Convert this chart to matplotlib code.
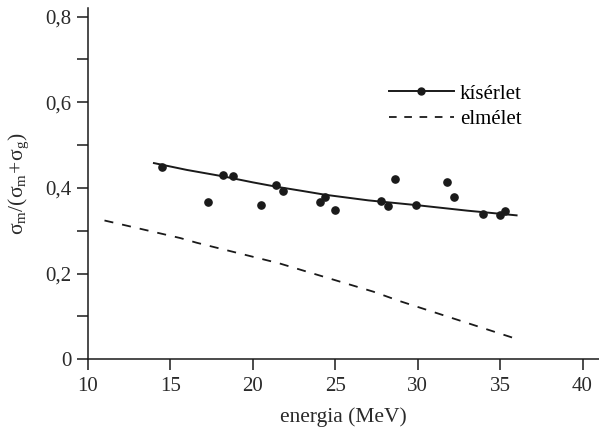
import numpy as np
import matplotlib
matplotlib.use("Agg")
import matplotlib.pyplot as plt

plt.rcParams['font.family'] = ['Liberation Serif', 'DejaVu Serif']
plt.rcParams['mathtext.fontset'] = 'custom'
plt.rcParams['mathtext.rm'] = 'Liberation Serif'
plt.rcParams['mathtext.it'] = 'Liberation Serif:italic'
plt.rcParams['lines.scale_dashes'] = False

# measured points (kísérlet)
exp_energy = [14.5, 17.3, 18.2, 18.8, 20.5, 21.4, 21.8, 24.1, 24.4, 25.0,
              27.8, 28.2, 28.65, 29.9, 31.75, 32.2, 33.95, 35.0, 35.3]
exp_ratio = [0.450, 0.367, 0.430, 0.428, 0.360, 0.407, 0.394, 0.368, 0.378, 0.348,
             0.369, 0.357, 0.420, 0.359, 0.415, 0.378, 0.339, 0.336, 0.346]

# fitted curve through the measurements
fit_energy = [14.0, 16.0, 18.2, 20.0, 21.4, 23.0, 24.4, 27.0, 29.9, 33.0, 36.0]
fit_ratio = [0.458, 0.442, 0.427, 0.413, 0.403, 0.393, 0.384, 0.371, 0.360, 0.347, 0.336]

# theory (elmélet)
th_energy = [11.0, 15.6, 16.6, 21.6, 27.3, 28.9, 35.8]
th_ratio = [0.324, 0.283, 0.272, 0.224, 0.158, 0.136, 0.050]

fig = plt.figure(figsize=(5.99, 4.30), dpi=100)
ax = fig.add_axes([88/599, 1 - 359.3/430, 1 - 88/599, (359.3 - 8)/430])

ax.plot(fit_energy, fit_ratio, color='#1a1a1a', lw=1.4, zorder=2)
ax.plot(exp_energy, exp_ratio, 'o', color='#1a1a1a', ms=5.2, zorder=3)
ax.plot(th_energy, th_ratio, color='#1a1a1a', lw=1.3, dashes=(6.5, 6.5))

# legend handles
ax.plot([], [], color='#1a1a1a', lw=1.4, marker='o', ms=5, label='kísérlet')
ax.plot([], [], color='#1a1a1a', lw=1.3, dashes=(5.5, 5.5), label='elmélet')
ax.legend(loc='upper left', bbox_to_anchor=(389/599, 1 - 84/430), bbox_transform=fig.transFigure,
          frameon=False, fontsize=15, handlelength=3.1, handletextpad=0.3,
          labelspacing=0.3, borderpad=0, borderaxespad=0, numpoints=1)

ax.set_xlim(10, 41)
ax.set_ylim(0, 0.82)
ax.set_xticks([10, 15, 20, 25, 30, 35, 40])
ax.set_yticks([0, 0.2, 0.4, 0.6, 0.8])
ax.set_yticklabels(['0', '0,2', '0,4', '0,6', '0,8'])
ax.set_yticks([0.1, 0.3, 0.5, 0.7], minor=True)

for s in ['top', 'right']:
    ax.spines[s].set_visible(False)
for s in ['left', 'bottom']:
    ax.spines[s].set_linewidth(1.1)
    ax.spines[s].set_color('#1a1a1a')

ax.tick_params(axis='both', which='both', direction='out', length=8, width=1.1,
               colors='#1a1a1a', labelsize=15, labelcolor='#2a2a2a')
ax.tick_params(axis='y', pad=4)
ax.tick_params(axis='x', pad=5)

ax.set_xlabel('energia (MeV)', fontsize=15.5, color='#2a2a2a', labelpad=8)
ax.set_ylabel(r'$\mathrm{σ_m/(σ_m\!+\!σ_g)}$', fontsize=15.5, color='#2a2a2a', labelpad=10)

fig.savefig('out.png', dpi=100)
